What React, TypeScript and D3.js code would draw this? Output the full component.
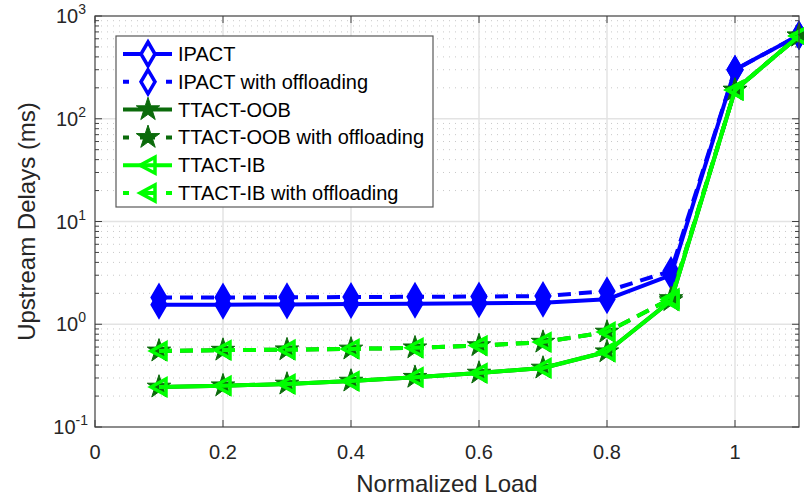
import * as d3 from 'd3'

// Normalized load (x) and delays in ms (y)
const loads = [0.1, 0.2, 0.3, 0.4, 0.5, 0.6, 0.7, 0.8, 0.9, 1.0, 1.1]
const ipact = [1.55, 1.55, 1.56, 1.57, 1.58, 1.6, 1.62, 1.75, 3.0, 300, 650]
const ipactOff = [1.82, 1.82, 1.83, 1.84, 1.85, 1.86, 1.88, 2.1, 3.3, 300, 650]
const oob = [0.245, 0.252, 0.262, 0.28, 0.305, 0.335, 0.375, 0.54, 1.7, 190, 640]
const oobOff = [0.55, 0.56, 0.565, 0.575, 0.59, 0.62, 0.67, 0.84, 1.78, 190, 640]
const ib = [0.245, 0.252, 0.262, 0.28, 0.305, 0.335, 0.375, 0.54, 1.7, 190, 640]
const ibOff = [0.55, 0.56, 0.565, 0.575, 0.59, 0.62, 0.67, 0.84, 1.78, 190, 640]

const xTicks = [0, 0.2, 0.4, 0.6, 0.8, 1]
const yDecades = [-1, 0, 1, 2, 3]

const BLUE = '#0000ff'
const DARK = '#0b6b0b'
const GREEN = '#00ff00'

type Marker = 'diamond' | 'star' | 'tri'
const series: { name: string; values: number[]; color: string; dashed: boolean; marker: Marker }[] = [
  { name: 'IPACT', values: ipact, color: BLUE, dashed: false, marker: 'diamond' },
  { name: 'IPACT with offloading', values: ipactOff, color: BLUE, dashed: true, marker: 'diamond' },
  { name: 'TTACT-OOB', values: oob, color: DARK, dashed: false, marker: 'star' },
  { name: 'TTACT-OOB with offloading', values: oobOff, color: DARK, dashed: true, marker: 'star' },
  { name: 'TTACT-IB', values: ib, color: GREEN, dashed: false, marker: 'tri' },
  { name: 'TTACT-IB with offloading', values: ibOff, color: GREEN, dashed: true, marker: 'tri' },
]

const W = 804
const H = 502
const left = 95
const right = 799
const top = 16
const bottom = 427
const FONT = '"Liberation Sans", Arial, sans-serif'

const starPath = d3.symbol(d3.symbolStar, 170)()
const diamondPath = 'M0,-12L7,0L0,12L-7,0Z'
const triPath = 'M-8,0L7,-8L7,8Z'

function MarkerShape({ type, color, x, y }: { type: Marker; color: string; x: number; y: number }) {
  if (type === 'diamond') {
    return <path d={diamondPath} transform={`translate(${x},${y})`} fill={color} stroke={color} strokeWidth={3} strokeLinejoin="miter" />
  }
  if (type === 'star') {
    return <path d={starPath as string} transform={`translate(${x},${y})`} fill={color} stroke={color} strokeWidth={1} />
  }
  return <path d={triPath} transform={`translate(${x},${y})`} fill="none" stroke={color} strokeWidth={3.5} strokeLinejoin="miter" />
}

export default function App() {
  const x = d3.scaleLinear().domain([0, 1.1]).range([left, right])
  const y = d3.scaleLog().domain([0.1, 1000]).range([bottom, top])

  const line = d3.line<number>()
    .x((_, i) => x(loads[i]))
    .y(d => y(d))

  const minor: number[] = []
  for (let e = -1; e < 3; e++) {
    for (let k = 2; k <= 9; k++) minor.push(k * Math.pow(10, e))
  }

  const legX = 116
  const legY = 36
  const legW = 317
  const legH = 171
  const rowH = 27.8

  return (
    <svg width={W} height={H} style={{ position: 'absolute', left: 0, top: 0, background: '#fff' }} fontFamily={FONT}>
      <rect x={0} y={0} width={W} height={H} fill="#fff" />
      {/* grid */}
      {minor.map(v => (
        <line key={'mg' + v} x1={left} x2={right} y1={y(v)} y2={y(v)} stroke="#c8c8c8" strokeWidth={1} strokeDasharray="1,5" />
      ))}
      {yDecades.slice(1, -1).map(e => (
        <line key={'yg' + e} x1={left} x2={right} y1={y(Math.pow(10, e))} y2={y(Math.pow(10, e))} stroke="#e3e3e3" strokeWidth={1.5} />
      ))}
      {xTicks.slice(1).map(t => (
        <line key={'xg' + t} x1={x(t)} x2={x(t)} y1={top} y2={bottom} stroke="#e3e3e3" strokeWidth={1.5} />
      ))}

      {/* ticks */}
      {minor.concat(yDecades.map(e => Math.pow(10, e))).map(v => {
        const major = Math.abs(Math.log10(v) - Math.round(Math.log10(v))) < 1e-9
        const len = major ? 7 : 4
        return (
          <g key={'yt' + v}>
            <line x1={left} x2={left + len} y1={y(v)} y2={y(v)} stroke="#404040" />
            <line x1={right} x2={right - len} y1={y(v)} y2={y(v)} stroke="#404040" />
          </g>
        )
      })}
      {xTicks.map(t => (
        <g key={'xt' + t}>
          <line x1={x(t)} x2={x(t)} y1={bottom} y2={bottom - 7} stroke="#404040" />
          <line x1={x(t)} x2={x(t)} y1={top} y2={top + 7} stroke="#404040" />
        </g>
      ))}

      {/* series */}
      {series.map(s => (
        <g key={s.name}>
          <path d={line(s.values) as string} fill="none" stroke={s.color} strokeWidth={4}
            strokeDasharray={s.dashed ? '13,8' : undefined} strokeLinejoin="round" />
          {s.values.map((v, i) => (
            <MarkerShape key={i} type={s.marker} color={s.color} x={x(loads[i])} y={y(v)} />
          ))}
        </g>
      ))}

      {/* frame */}
      <rect x={left} y={top} width={right - left} height={bottom - top} fill="none" stroke="#404040" strokeWidth={1.2} />

      {/* tick labels */}
      {xTicks.map(t => (
        <text key={'xl' + t} x={x(t)} y={459} textAnchor="middle" fontSize={20} fill="#262626">{String(t)}</text>
      ))}
      {yDecades.map(e => (
        <text key={'yl' + e} x={e < 0 ? 88 : 86} y={y(Math.pow(10, e)) + 7} textAnchor="end" fontSize={20} fill="#262626">
          10<tspan dy={-9} fontSize={14}>{e}</tspan>
        </text>
      ))}

      {/* axis labels */}
      <text x={(left + right) / 2} y={492} textAnchor="middle" fontSize={24} fill="#262626">Normalized Load</text>
      <text transform={`translate(35,${(top + bottom) / 2}) rotate(-90)`} textAnchor="middle" fontSize={24} fill="#262626">Upstream Delays (ms)</text>

      {/* legend */}
      <rect x={legX} y={legY} width={legW} height={legH} fill="#fff" stroke="#595959" strokeWidth={1.2} />
      {series.map((s, i) => {
        const cy = legY + 18 + i * rowH
        return (
          <g key={'lg' + s.name}>
            <line x1={123} x2={172} y1={cy} y2={cy} stroke={s.color} strokeWidth={4}
              strokeDasharray={s.dashed ? '6,11,15,11,7' : undefined} />
            {s.marker === 'tri' && (
              <MarkerShape type="tri" color={s.color} x={148} y={cy} />
            )}
            {s.marker === 'star' && <MarkerShape type="star" color={s.color} x={148} y={cy} />}
            {s.marker === 'diamond' && (
              <path d={diamondPath} transform={`translate(148,${cy})`} fill="#fff" stroke={s.color} strokeWidth={3.5} />
            )}
            <text x={178} y={cy + 7} fontSize={20} fill="#000">{s.name}</text>
          </g>
        )
      })}
    </svg>
  )
}
